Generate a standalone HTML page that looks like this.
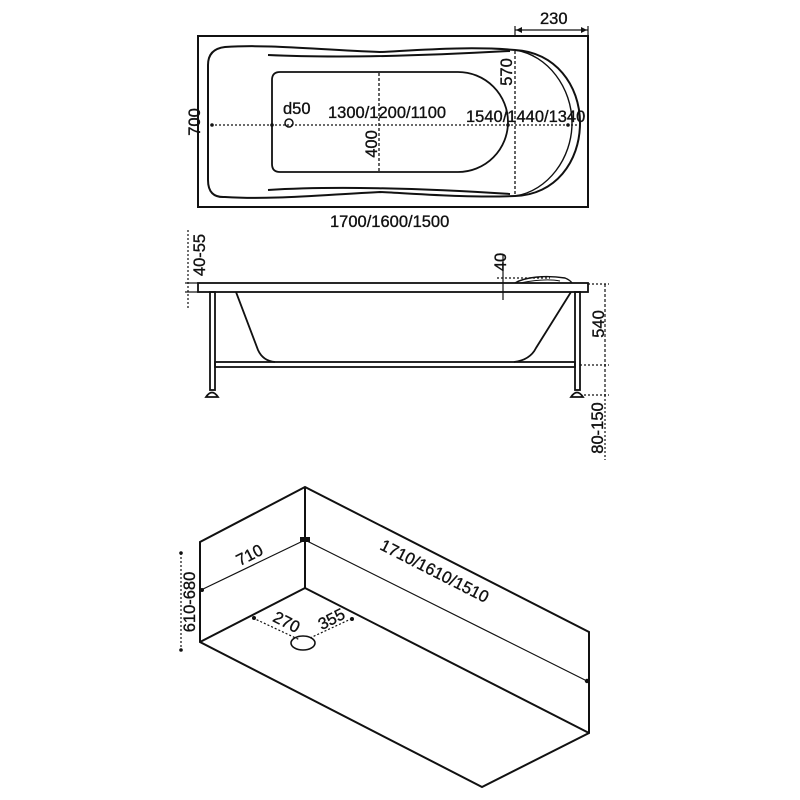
<!DOCTYPE html>
<html><head><meta charset="utf-8"><style>
html,body{margin:0;padding:0;background:#fff;}
svg{display:block;}
text{font-family:"Liberation Sans",Arial,sans-serif;font-size:16.5px;fill:#111;stroke:#111;stroke-width:0.35;}
</style></head><body>
<svg width="800" height="800" viewBox="0 0 800 800" xmlns="http://www.w3.org/2000/svg">
<g fill="none" stroke="#111" stroke-width="1.6">
<rect x="198" y="36" width="390" height="171" stroke-width="2"/>
<line x1="515" y1="30" x2="588" y2="30" stroke-width="1.2"/>
<line x1="515" y1="26" x2="515" y2="36" stroke-width="1.2"/>
<line x1="588" y1="26" x2="588" y2="36" stroke-width="1.2"/>
<path d="M515,50 C470,46 420,50 380,52 C320,50 270,44 225,47 Q208,49 208,65 L208,180 Q208,198 225,197 C270,200 320,195 380,192 C420,194 470,198 515,196" stroke-width="2"/>
<path d="M515,50 C555,52 580,85 580,123 C580,162 555,195 515,196" stroke-width="2"/>
<path d="M515,50 C548,55 572,88 572,123 C572,158 548,191 515,196" stroke-width="1.4"/>
<path d="M268,55 C330,58 420,56 510,51" stroke-width="2"/>
<path d="M268,190 C330,186 420,188 510,194" stroke-width="2"/>
<path d="M280,72 L458,72 A50,50 0 0 1 458,172 L280,172 Q272,172 272,164 L272,80 Q272,72 280,72 Z" stroke-width="1.8"/>
<line x1="211" y1="125" x2="578" y2="125" stroke-width="1.3" stroke-dasharray="2,2"/>
<line x1="379" y1="73" x2="379" y2="171" stroke-width="1.3" stroke-dasharray="3,2"/>
<line x1="515" y1="51" x2="515" y2="195" stroke-width="1.3" stroke-dasharray="3,2"/>
<circle cx="289" cy="123" r="4" stroke-width="1.5"/>
</g>
<g fill="#111">
<circle cx="212" cy="125" r="1.8"/><circle cx="272" cy="125" r="1.8"/><circle cx="508" cy="125" r="1.8"/><circle cx="568" cy="125" r="1.8"/>
<path d="M516,30 l6,-3 v6z M587,30 l-6,-3 v6z"/>
</g>
<text x="540" y="24">230</text>
<text x="283" y="114">d50</text>
<text x="328" y="118">1300/1200/1100</text>
<text x="466" y="122">1540/1440/1340</text>
<text x="330" y="227">1700/1600/1500</text>
<text transform="translate(200,122) rotate(-90)" text-anchor="middle">700</text>
<text transform="translate(512,72) rotate(-90)" text-anchor="middle">570</text>
<text transform="translate(377,144) rotate(-90)" text-anchor="middle">400</text>

<g fill="none" stroke="#111" stroke-width="1.8">
<rect x="198" y="283" width="390" height="9"/>
<rect x="210" y="292" width="5" height="98"/>
<rect x="575" y="292" width="5" height="98"/>
<path d="M206,397 Q212,388 218,397 Z"/>
<path d="M571,397 Q577,388 583,397 Z"/>
<rect x="215" y="362" width="360" height="5"/>
<path d="M236,292 L258,350 Q263,361 275,362"/>
<path d="M571,292 L536,348 Q530,360 514,362"/>
<path d="M515,283 C525,277 545,275 565,278 Q570,280 572,283" stroke-width="1.4"/>
<path d="M520,283 C535,280 550,279 560,281" stroke-width="1"/>
</g>
<g fill="none" stroke="#111" stroke-width="1.2">
<line x1="503" y1="255" x2="503" y2="300"/>
<line x1="497" y1="278" x2="550" y2="278" stroke-dasharray="2,2"/>
<line x1="188" y1="230" x2="188" y2="308" stroke-dasharray="2,2"/>
<line x1="185" y1="283" x2="200" y2="283"/>
<line x1="185" y1="292" x2="200" y2="292"/>
<line x1="605" y1="284" x2="605" y2="395" stroke-dasharray="3,2"/>
<line x1="588" y1="284" x2="609" y2="284" stroke-dasharray="2,2"/>
<line x1="580" y1="365" x2="609" y2="365" stroke-dasharray="2,2"/>
<line x1="584" y1="395" x2="609" y2="395" stroke-dasharray="2,2"/>
<line x1="605" y1="395" x2="605" y2="460" stroke-dasharray="2,2"/>
</g>
<text transform="translate(205,255) rotate(-90)" text-anchor="middle">40-55</text>
<text transform="translate(506,262) rotate(-90)" text-anchor="middle">40</text>
<text transform="translate(604,324) rotate(-90)" text-anchor="middle">540</text>
<text transform="translate(603,428) rotate(-90)" text-anchor="middle">80-150</text>

<g fill="none" stroke="#111" stroke-width="2">
<path d="M200,642 L200,542 L305,487 L589,632 L589,733 L482,787 L200,642 Z"/>
<line x1="305" y1="487" x2="305" y2="588"/>
<line x1="200" y1="642" x2="305" y2="588"/>
<line x1="305" y1="588" x2="589" y2="733"/>
</g>
<g fill="none" stroke="#111" stroke-width="1.2">
<line x1="201" y1="590" x2="305" y2="540"/>
<line x1="305" y1="540" x2="587" y2="681"/>
<line x1="181" y1="553" x2="181" y2="650" stroke-dasharray="2,2"/>
<line x1="253" y1="618" x2="300" y2="640" stroke-dasharray="2,2"/>
<line x1="310" y1="638" x2="353" y2="618" stroke-dasharray="2,2"/>
<ellipse cx="303" cy="643" rx="12" ry="7" stroke-width="1.6"/>
</g>
<g fill="#111">
<circle cx="202" cy="590" r="2"/><rect x="300" y="537" width="10" height="5"/><circle cx="587" cy="681" r="2.2"/>
<circle cx="254" cy="618" r="2"/><circle cx="352" cy="619" r="2"/>
<circle cx="181" cy="553" r="1.8"/><circle cx="181" cy="650" r="1.8"/>
</g>
<text transform="translate(252,560) rotate(-27)" text-anchor="middle">710</text>
<text transform="translate(432,576) rotate(27)" text-anchor="middle">1710/1610/1510</text>
<text transform="translate(284,627) rotate(27)" text-anchor="middle">270</text>
<text transform="translate(334,624) rotate(-27)" text-anchor="middle">355</text>
<text transform="translate(195,602) rotate(-90)" text-anchor="middle">610-680</text>
</svg>
</body></html>
